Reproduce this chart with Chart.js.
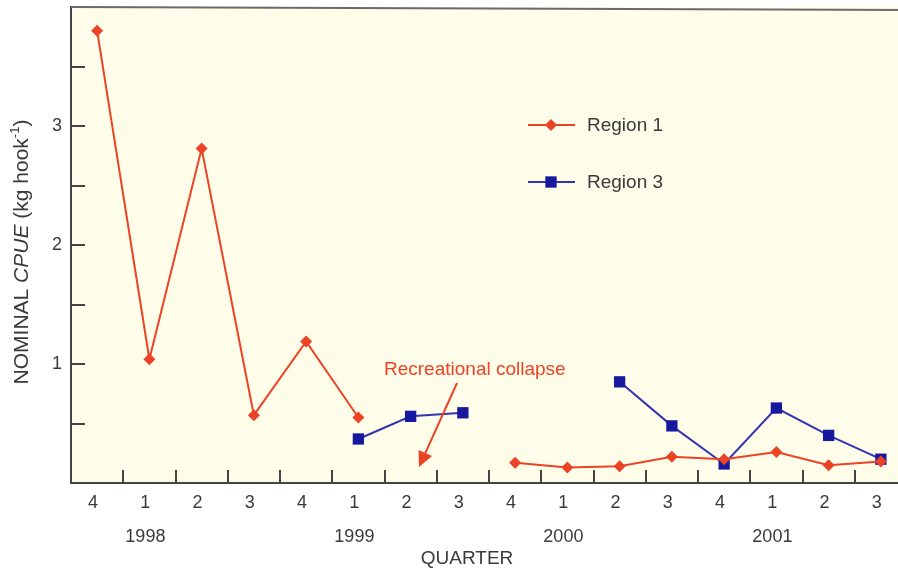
<!DOCTYPE html>
<html>
<head>
<meta charset="utf-8">
<script src="https://cdn.jsdelivr.net/npm/chart.js@4.4.0/dist/chart.umd.min.js"></script>
<style>
  html, body { margin: 0; padding: 0; background: #fff; overflow: hidden; }
  #wrap { position: absolute; left: 0; top: 0; width: 912px; height: 570px; }
</style>
</head>
<body>
<div id="wrap"><canvas id="myChart" width="912" height="570"></canvas></div>
<script>
// quarters along the bottom, year written under each Q1
const quarters = ['4','1','2','3','4','1','2','3','4','1','2','3','4','1','2','3'];
const years    = ['','1998','','','','1999','','','','2000','','','','2001','',''];
// nominal CPUE (kg hook-1), null = no sample
const region1  = [3.80, 1.04, 2.81, 0.57, 1.19, 0.55, null, null, 0.17, 0.13, 0.14, 0.22, 0.20, 0.26, 0.15, 0.18];
const region3  = [null, null, null, null, null, 0.37, 0.56, 0.59, null, null, 0.85, 0.48, 0.16, 0.63, 0.40, 0.20];
const yLabels  = [1, 2, 3];

const RED = 'rgb(236,66,38)';
const BLUE_LINE = 'rgb(52,52,178)';
const BLUE = 'rgb(24,24,158)';
const TXT = '#3a3a3a';
const FONT = '"Liberation Sans", Arial, Helvetica, sans-serif';

let labels = [];
for (let i = 0; i < quarters.length; i++) {
  labels.push([quarters[i], years[i]]);
}

const decor = {
  id: 'decor',
  beforeDraw(chart) {
    const ctx = chart.ctx, a = chart.chartArea;
    ctx.save();
    ctx.fillStyle = '#fdfdea';
    ctx.fillRect(a.left, a.top, a.right - a.left, a.bottom - a.top);
    ctx.restore();
  },
  afterDraw(chart) {
    const ctx = chart.ctx, a = chart.chartArea;
    const xs = chart.scales.x, ys = chart.scales.y;
    ctx.save();
    // top frame line
    ctx.strokeStyle = '#6a6a6a';
    ctx.lineWidth = 2;
    ctx.beginPath();
    ctx.moveTo(a.left, a.top);
    ctx.lineTo(a.right, a.top + 3);
    ctx.stroke();

    // inward tick marks
    ctx.strokeStyle = '#444';
    ctx.lineWidth = 2;
    ctx.beginPath();
    for (let v = 0.5; v < 4; v += 0.5) {
      const y = Math.round(ys.getPixelForValue(v));
      ctx.moveTo(a.left, y);
      ctx.lineTo(a.left + 14, y);
    }
    for (let i = 1; i < quarters.length; i++) {
      const x = Math.round((xs.getPixelForValue(i - 1) + xs.getPixelForValue(i)) / 2);
      ctx.moveTo(x, a.bottom);
      ctx.lineTo(x, a.bottom - 13);
    }
    ctx.stroke();

    // y axis title with italic CPUE and superscript
    ctx.translate(22, 252);
    ctx.rotate(-Math.PI / 2);
    ctx.fillStyle = TXT;
    ctx.textBaseline = 'middle';
    const parts = [
      ['NOMINAL ', '21px ' + FONT, 0],
      ['CPUE', 'italic 21px ' + FONT, 0],
      [' (kg hook', '21px ' + FONT, 0],
      ['-1', '13px ' + FONT, -7],
      [')', '21px ' + FONT, 0]
    ];
    let total = 0;
    parts.forEach(p => { ctx.font = p[1]; total += ctx.measureText(p[0]).width; });
    let px = -total / 2;
    ctx.textAlign = 'left';
    parts.forEach(p => {
      ctx.font = p[1];
      ctx.fillText(p[0], px, p[2]);
      px += ctx.measureText(p[0]).width;
    });
    ctx.restore();

    // x axis title
    ctx.save();
    ctx.fillStyle = TXT;
    ctx.font = '19px ' + FONT;
    ctx.textAlign = 'center';
    ctx.textBaseline = 'middle';
    ctx.fillText('QUARTER', 467, 559);

    // legend inside the plot
    const items = [[chart.data.datasets[0], 125], [chart.data.datasets[1], 182]];
    items.forEach(it => {
      const ds = it[0], y = it[1];
      ctx.strokeStyle = ds.borderColor;
      ctx.lineWidth = 2;
      ctx.beginPath();
      ctx.moveTo(528, y);
      ctx.lineTo(575, y);
      ctx.stroke();
      ctx.fillStyle = ds.pointBackgroundColor;
      Chart.helpers.drawPoint(ctx, {pointStyle: ds.pointStyle, radius: ds.pointRadius, borderWidth: 0}, 551, y);
      ctx.fillStyle = TXT;
      ctx.font = '19px ' + FONT;
      ctx.textAlign = 'left';
      ctx.fillText(ds.label, 587, y + 1);
    });

    // annotation
    ctx.fillStyle = RED;
    ctx.font = '19px ' + FONT;
    ctx.textAlign = 'left';
    ctx.fillText('Recreational collapse', 384, 370);
    const x1 = 457, y1 = 383, x2 = 419, y2 = 467;
    const ang = Math.atan2(y2 - y1, x2 - x1);
    ctx.strokeStyle = RED;
    ctx.lineWidth = 2;
    ctx.beginPath();
    ctx.moveTo(x1, y1);
    ctx.lineTo(x2 - Math.cos(ang) * 12, y2 - Math.sin(ang) * 12);
    ctx.stroke();
    ctx.beginPath();
    ctx.moveTo(x2, y2);
    ctx.lineTo(x2 - Math.cos(ang - 0.45) * 17, y2 - Math.sin(ang - 0.45) * 17);
    ctx.lineTo(x2 - Math.cos(ang + 0.45) * 17, y2 - Math.sin(ang + 0.45) * 17);
    ctx.closePath();
    ctx.fill();
    ctx.restore();
  }
};

const ctx = document.getElementById('myChart').getContext('2d');
const myChart = new Chart(ctx, {
  type: 'line',
  data: {
    labels: labels,
    datasets: [{
      label: 'Region 1',
      data: region1,
      borderColor: RED,
      backgroundColor: RED,
      pointBackgroundColor: RED,
      pointBorderWidth: 0,
      pointStyle: 'rectRot',
      pointRadius: 6,
      borderWidth: 2,
      spanGaps: false
    }, {
      label: 'Region 3',
      data: region3,
      borderColor: BLUE_LINE,
      backgroundColor: BLUE,
      pointBackgroundColor: BLUE,
      pointBorderWidth: 0,
      pointStyle: 'rect',
      pointRadius: 8,
      borderWidth: 2,
      spanGaps: false
    }]
  },
  options: {
    responsive: false,
    animation: false,
    layout: { autoPadding: false, padding: { top: 7, right: 5, left: 0, bottom: 0 } },
    plugins: {
      legend: { display: false },
      tooltip: { enabled: false }
    },
    scales: {
      x: {
        type: 'category',
        offset: true,
        grid: { display: false, drawTicks: false },
        border: { display: true, color: '#444', width: 2 },
        ticks: {
          autoSkip: false,
          maxRotation: 0,
          padding: 3,
          labelOffset: -4,
          color: TXT,
          font: { family: FONT, size: 18, lineHeight: '34px' }
        },
        afterFit(scale) {
          scale.height = 87;
          scale.paddingLeft = 0;
          scale.paddingRight = 0;
        }
      },
      y: {
        min: 0,
        max: 4,
        grid: { display: false, drawTicks: false },
        border: { display: true, color: '#444', width: 2 },
        ticks: {
          stepSize: 0.5,
          padding: 9,
          color: TXT,
          font: { family: FONT, size: 18 },
          callback: function(v) { return yLabels.includes(v) ? String(v) : ''; }
        },
        afterFit(scale) {
          scale.width = 71;
          scale.paddingTop = 0;
          scale.paddingBottom = 0;
        }
      }
    }
  },
  plugins: [decor]
});
</script>
</body>
</html>
